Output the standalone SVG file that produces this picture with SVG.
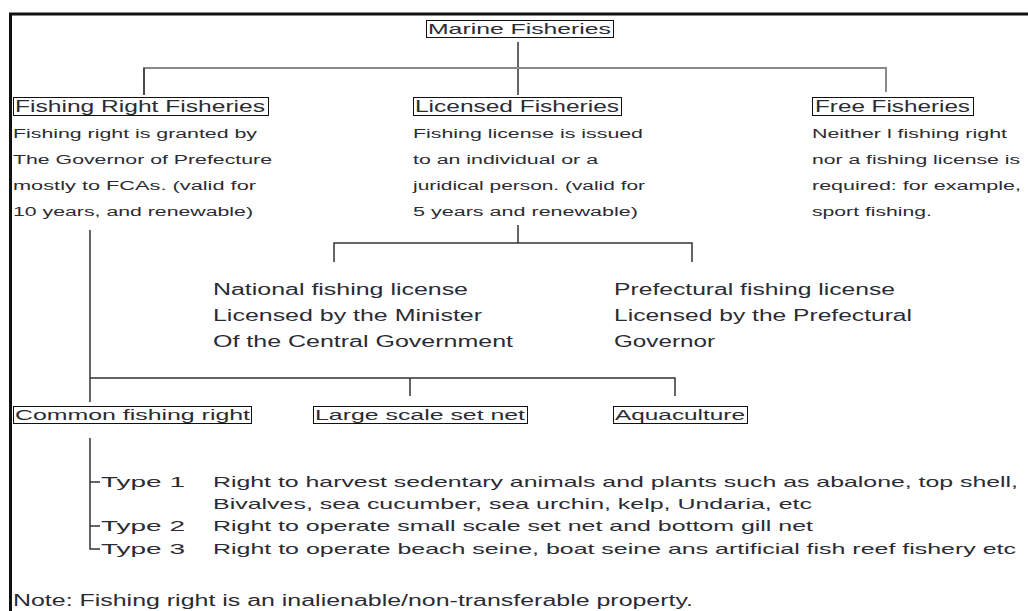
<svg xmlns="http://www.w3.org/2000/svg" width="1028" height="611" viewBox="0 0 1028 611">
<style>
  text { font-family: "Liberation Sans", Arial, sans-serif; fill: #2b2b33; }
  .h { font-size: 16px; }
  .t { font-size: 15px; }
  .b { font-size: 12.5px; }
  .m { font-size: 16px; }
  .box { fill: #fff; stroke: #111; stroke-width: 1; }
  .ln { stroke: #333; stroke-width: 1.5; fill: none; }
  .lg { stroke: #8a8a8a; stroke-width: 2; fill: none; }
</style>
<rect width="1028" height="611" fill="#fff"/>
<g id="frame">
  <line x1="10.5" y1="13" x2="10.5" y2="611" stroke="#111" stroke-width="3"/>
  <line x1="9" y1="14" x2="1028" y2="14" stroke="#111" stroke-width="3"/>
</g>
<g id="connectors">
  <line class="ln" x1="518" y1="42" x2="518" y2="95"/>
  <polyline class="lg" points="144,95 144,68 886,68 886,92"/>
  <line class="ln" x1="144" y1="68" x2="144" y2="95"/>
  <line class="ln" x1="518" y1="225" x2="518" y2="243"/>
  <polyline class="ln" points="334,262 334,243 692,243 692,262"/>
  <line class="ln" x1="90" y1="230" x2="90" y2="402"/>
  <polyline class="ln" points="90,378 675,378 675,396"/>
  <line class="ln" x1="410" y1="378" x2="410" y2="396"/>
  <polyline class="ln" points="90,438 90,549 100,549"/>
  <line class="ln" x1="90" y1="482" x2="100" y2="482"/>
  <line class="ln" x1="90" y1="526" x2="100" y2="526"/>
</g>
<g id="marine">
  <rect class="box" x="426.5" y="20.5" width="187" height="17"/>
  <text class="t" x="428" y="34" textLength="183" lengthAdjust="spacingAndGlyphs">Marine Fisheries</text>
</g>
<g id="fishing-right">
  <rect class="box" x="13.5" y="97.5" width="255" height="18"/>
  <text class="h" x="15" y="112" textLength="250" lengthAdjust="spacingAndGlyphs">Fishing Right Fisheries</text>
  <text class="b" x="13" y="138" textLength="244" lengthAdjust="spacingAndGlyphs">Fishing right is granted by</text>
  <text class="b" x="13" y="164" textLength="259" lengthAdjust="spacingAndGlyphs">The Governor of Prefecture</text>
  <text class="b" x="13" y="190" textLength="243" lengthAdjust="spacingAndGlyphs">mostly to FCAs. (valid for</text>
  <text class="b" x="13" y="216" textLength="240" lengthAdjust="spacingAndGlyphs">10 years, and renewable)</text>
</g>
<g id="licensed">
  <rect class="box" x="413.5" y="97.5" width="208" height="18"/>
  <text class="h" x="415" y="112" textLength="204" lengthAdjust="spacingAndGlyphs">Licensed Fisheries</text>
  <text class="b" x="413" y="138" textLength="230" lengthAdjust="spacingAndGlyphs">Fishing license is issued</text>
  <text class="b" x="413" y="164" textLength="185" lengthAdjust="spacingAndGlyphs">to an individual or a</text>
  <text class="b" x="413" y="190" textLength="232" lengthAdjust="spacingAndGlyphs">juridical person. (valid for</text>
  <text class="b" x="413" y="216" textLength="225" lengthAdjust="spacingAndGlyphs">5 years and renewable)</text>
</g>
<g id="free">
  <rect class="box" x="812.5" y="97.5" width="161" height="18"/>
  <text class="h" x="815" y="112" textLength="155" lengthAdjust="spacingAndGlyphs">Free Fisheries</text>
  <text class="b" x="812" y="138" textLength="195" lengthAdjust="spacingAndGlyphs">Neither l fishing right</text>
  <text class="b" x="812" y="164" textLength="208" lengthAdjust="spacingAndGlyphs">nor a fishing license is</text>
  <text class="b" x="812" y="190" textLength="209" lengthAdjust="spacingAndGlyphs">required: for example,</text>
  <text class="b" x="812" y="216" textLength="120" lengthAdjust="spacingAndGlyphs">sport fishing.</text>
</g>
<g id="national">
  <text class="m" x="213" y="295" textLength="255" lengthAdjust="spacingAndGlyphs">National fishing license</text>
  <text class="m" x="213" y="321" textLength="269" lengthAdjust="spacingAndGlyphs">Licensed by the Minister</text>
  <text class="m" x="213" y="347" textLength="300" lengthAdjust="spacingAndGlyphs">Of the Central Government</text>
</g>
<g id="prefectural">
  <text class="m" x="614" y="295" textLength="281" lengthAdjust="spacingAndGlyphs">Prefectural fishing license</text>
  <text class="m" x="614" y="321" textLength="298" lengthAdjust="spacingAndGlyphs">Licensed by the Prefectural</text>
  <text class="m" x="614" y="347" textLength="101" lengthAdjust="spacingAndGlyphs">Governor</text>
</g>
<g id="common">
  <rect class="box" x="13.5" y="406.5" width="238" height="17"/>
  <text class="t" x="15" y="420" textLength="235" lengthAdjust="spacingAndGlyphs">Common fishing right</text>
</g>
<g id="large-scale">
  <rect class="box" x="313.5" y="406.5" width="214" height="17"/>
  <text class="t" x="315" y="420" textLength="210" lengthAdjust="spacingAndGlyphs">Large scale set net</text>
</g>
<g id="aquaculture">
  <rect class="box" x="613.5" y="406.5" width="134" height="17"/>
  <text class="t" x="615" y="420" textLength="130" lengthAdjust="spacingAndGlyphs">Aquaculture</text>
</g>
<g id="types">
  <text class="t" x="101" y="487" textLength="84" lengthAdjust="spacingAndGlyphs">Type 1</text>
  <text class="t" x="213" y="487" textLength="805" lengthAdjust="spacingAndGlyphs">Right to harvest sedentary animals and plants such as abalone, top shell,</text>
  <text class="t" x="213" y="509" textLength="599" lengthAdjust="spacingAndGlyphs">Bivalves, sea cucumber, sea urchin, kelp, Undaria, etc</text>
  <text class="t" x="101" y="531" textLength="84" lengthAdjust="spacingAndGlyphs">Type 2</text>
  <text class="t" x="213" y="531" textLength="600" lengthAdjust="spacingAndGlyphs">Right to operate small scale set net and bottom gill net</text>
  <text class="t" x="101" y="554" textLength="84" lengthAdjust="spacingAndGlyphs">Type 3</text>
  <text class="t" x="213" y="554" textLength="803" lengthAdjust="spacingAndGlyphs">Right to operate beach seine, boat seine ans artificial fish reef fishery etc</text>
</g>
<g id="note">
  <text class="m" x="13" y="606" textLength="680" lengthAdjust="spacingAndGlyphs">Note: Fishing right is an inalienable/non-transferable property.</text>
</g>
</svg>
